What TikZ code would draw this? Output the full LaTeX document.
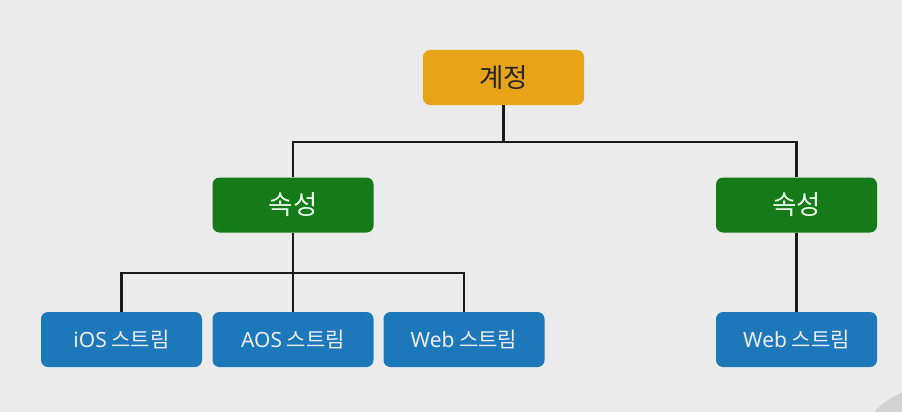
\documentclass[tikz,border=0pt]{standalone}
\usepackage{fontspec}
\setmainfont{Noto Sans CJK KR}
\newfontfamily\latfont{Noto Sans}
\definecolor{bgc}{HTML}{EBEBEB}
\definecolor{orangec}{HTML}{E7A419}
\definecolor{greenc}{HTML}{157A18}
\definecolor{bluec}{HTML}{1C78B8}
\definecolor{linec}{HTML}{1A1A1A}
\definecolor{circc}{HTML}{D2D2D2}
\tikzset{
  boxbase/.style={rounded corners=7pt, minimum width=161pt, minimum height=55pt, inner sep=0pt, anchor=center},
  topbox/.style={boxbase, fill=orangec, text=black!85, font=\fontsize{26.5}{26.5}\selectfont},
  midbox/.style={boxbase, fill=greenc, text=white!92!green, font=\fontsize{26.5}{26.5}\selectfont},
  leafbox/.style={boxbase, fill=bluec, text=white!93!blue, font=\fontsize{21}{21}\selectfont},
  conn/.style={draw=linec, line width=2.6pt}
}
\begin{document}
\begin{tikzpicture}[x=1pt,y=-1pt]
  \fill[bgc] (0,0) rectangle (902,412);
  \useasboundingbox (0,0) rectangle (902,412);
  \begin{scope}
    \clip (0,0) rectangle (902,412);
    \fill[circc] (928,460) circle (72);
  \end{scope}
  \node[topbox] (top) at (503.5,77.5) {계정};
  \node[midbox] (g1) at (293,205) {속성};
  \node[midbox] (g2) at (796.5,205) {속성};
  \node[leafbox] (b1) at (121.5,339.5) {{\latfont iOS} 스트림};
  \node[leafbox] (b2) at (293,339.5) {{\latfont AOS} 스트림};
  \node[leafbox] (b3) at (464,339.5) {{\latfont Web} 스트림};
  \node[leafbox] (b4) at (796.5,339.5) {{\latfont Web} 스트림};
  \coordinate (j1) at (503.5,142);
  \coordinate (j2) at (293,273);
  \draw[conn] (top.south) -- (j1);
  \draw[conn] (g1.north) |- (j1) -| (g2.north);
  \draw[conn] (g1.south) -- (b2.north);
  \draw[conn] (b1.north) |- (j2) -| (b3.north);
  \draw[conn] (g2.south) -- (b4.north);
\end{tikzpicture}
\end{document}
